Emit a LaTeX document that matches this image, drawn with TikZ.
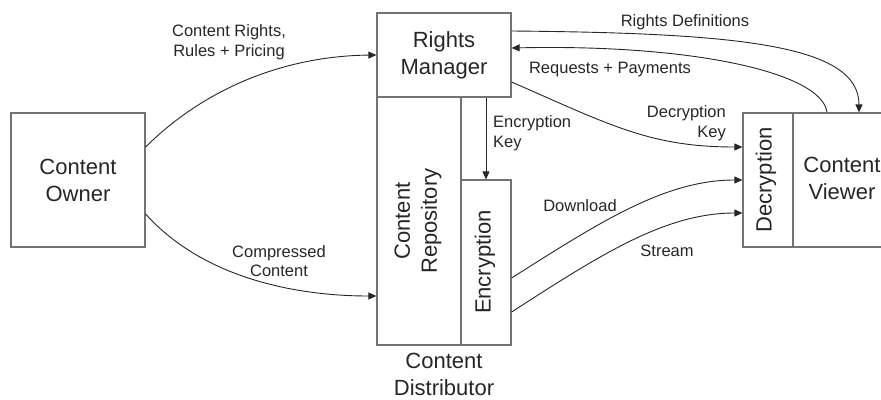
\documentclass[tikz,border=0pt]{standalone}
\usepackage{fontspec}
\setmainfont{Liberation Sans}
\usetikzlibrary{arrows.meta,calc}
\begin{document}
\begin{tikzpicture}[x=1pt,y=-1pt,
  box/.style={draw=black!55,line width=1.2pt,inner sep=0pt,fill=none},
  boxtext/.style={font=\fontsize{22}{27}\selectfont,align=center,inner sep=0pt,text=black!85},
  lbl/.style={font=\fontsize{16.5}{19.5}\selectfont,align=center,inner sep=0pt,text=black!85},
  arr/.style={draw=black!85,line width=0.9pt,-{Triangle[length=8pt,width=7pt]}},
  ln/.style={draw=black!85,line width=0.9pt}]
\useasboundingbox (0,0) rectangle (881,399);
\clip (0,0) rectangle (881,399);
% boxes
\node[box,minimum width=134pt,minimum height=134pt] (owner) at (78,180) {};
\node[box,minimum width=134pt,minimum height=84pt] (rm) at (444,55) {};
\node[box,minimum width=84pt,minimum height=248pt] (repo) at (419,221) {};
\node[box,minimum width=50pt,minimum height=165pt] (enc) at (486,262.5) {};
\node[box,minimum width=50pt,minimum height=134pt] (dec) at (768,180) {};
\node[box,minimum width=102pt,minimum height=134pt] (viewer) at (844,180) {};
% box texts
\node[boxtext] (ownert) at (owner) {Content\\Owner};
\node[boxtext] (rmt) at (rm) {Rights\\Manager};
\node[boxtext,rotate=90] (repot) at (418,221) {Content\\Repository};
\node[boxtext,rotate=90] (enct) at (485,262) {Encryption};
\node[boxtext,rotate=90] (dect) at (766,180) {Decryption};
\node[boxtext] (viewert) at (842,178) {Content\\Viewer};
\node[boxtext] (distt) at (444,374) {Content\\Distributor};
% connectors
\draw[arr] ([yshift=33pt]owner.east) .. controls (205,88) and (285,56) .. (rm.west);
\draw[arr] ([yshift=-34pt]owner.east) .. controls (205,280) and (300,296) .. ([yshift=-75pt]repo.west);
\draw[arr] (rm.south -| enc.north) -- (enc.north);
\draw[arr] ([yshift=-27pt]rm.east) .. controls (610,125) and (650,147) .. ([yshift=33pt]dec.west);
\draw[arr] ([yshift=-15.5pt]enc.east) .. controls (600,222) and (665,180) .. (dec.west);
\draw[arr] ([yshift=-49.5pt]enc.east) .. controls (600,255) and (665,213) .. ([yshift=-33pt]dec.west);
\draw[arr] ([yshift=24pt]rm.east) .. controls (740,33) and (859,45) .. ([xshift=15pt]viewer.north);
\draw[arr] ([xshift=-17pt]viewer.north) .. controls (822,72) and (690,44) .. ([yshift=7pt]rm.east);
% labels
\node[lbl] (l1) at (229,42) {Content Rights,\\Rules + Pricing};
\node[lbl] (l2) at (279,261) {Compressed\\Content};
\node[lbl,anchor=west,align=left] (l3) at (493,133) {Encryption\\Key};
\node[lbl,anchor=east,align=right] (l4) at (726,123) {Decryption\\Key};
\node[lbl] (l5) at (685,22) {Rights Definitions};
\node[lbl] (l6) at (610,70) {Requests + Payments};
\node[lbl] (l7) at (580,206) {Download};
\node[lbl] (l8) at (667,251) {Stream};
\end{tikzpicture}
\end{document}
